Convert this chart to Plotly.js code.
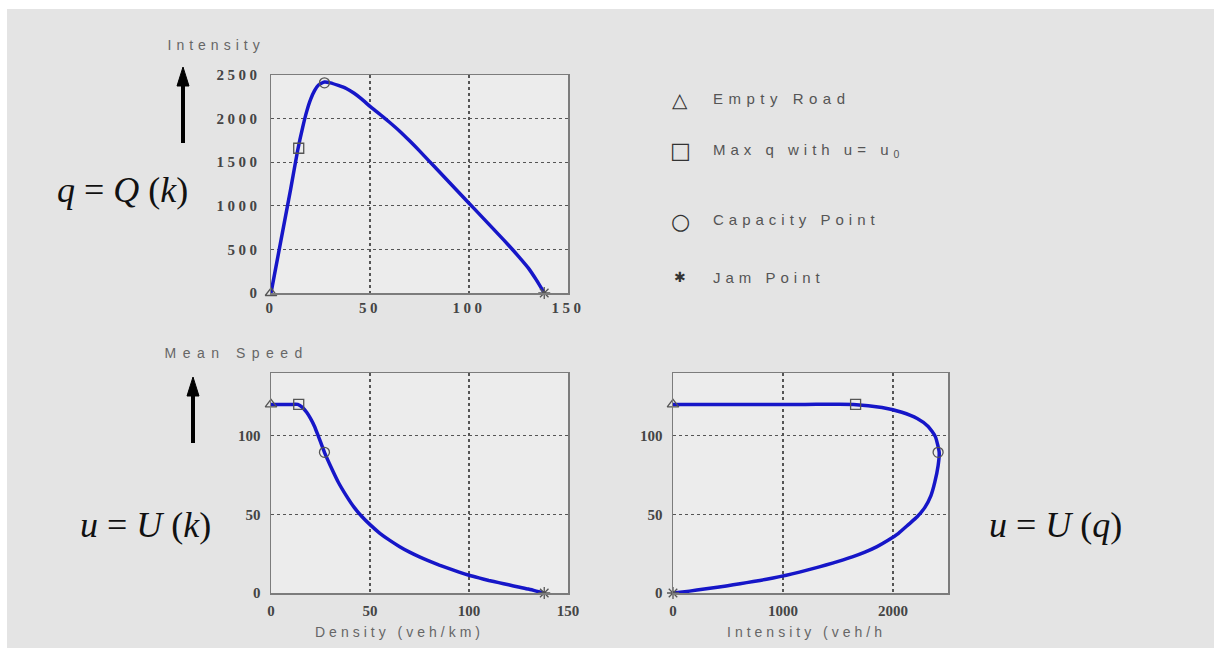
<!DOCTYPE html>
<html><head><meta charset="utf-8">
<script src="https://cdn.plot.ly/plotly-3.0.1.min.js"></script>
<style>
html,body{margin:0;padding:0;background:#fff;}
#wrap{position:relative;width:1214px;height:648px;overflow:hidden;}
#chart{position:absolute;left:0;top:0;width:1214px;height:648px;}
.edge{position:absolute;background:#fff;}
.xtick text,.ytick text{letter-spacing:3.5px;}
</style></head><body>
<div id="wrap"><div id="chart"></div>
<div class="edge" style="left:0;top:0;width:1214px;height:9px"></div>
<div class="edge" style="left:0;top:0;width:7px;height:648px"></div></div>
<script>
// ---- data ----
// density k (veh/km), intensity q read from the q=Q(k) panel, speed u read from the u=U(k) panel
const density   = [0, 5, 10, 13.5, 16, 18, 20, 22, 24, 27, 30, 34, 38, 42, 46, 50, 55, 60, 65, 70, 75, 80, 85, 90, 95, 100, 105, 110, 115, 120, 125, 130, 134, 138];
const intensity = [0, 600, 1200, 1640, 1900, 2080, 2220, 2320, 2385, 2420, 2410, 2380, 2345, 2290, 2220, 2140, 2050, 1955, 1855, 1745, 1630, 1510, 1390, 1270, 1150, 1030, 910, 790, 670, 548, 420, 285, 150, 0];
const speed     = [120, 120, 120, 120, 118, 115, 111, 106, 99.5, 89.5, 81, 70.5, 62, 54.5, 48.5, 43.5, 38, 33.5, 29.5, 26, 23, 20.3, 17.8, 15.5, 13.3, 11.3, 9.6, 8, 6.6, 5.2, 3.8, 2.5, 1.2, 0];

const pointNames     = ['Empty Road', 'Max q with u= u<sub>0</sub>', 'Capacity Point', 'Jam Point'];
const pointSymbols   = ['triangle-up-open', 'square-open', 'circle-open', 'asterisk-open'];
const legendGlyphs   = ['\u25B3', '\u25A1', '\u25CB', '\u2731'];
const pointDensity   = [0, 14, 27, 138];
const pointSpeed     = [120, 120, 89.5, 0];
const pointIntensity = [0, 1660, 2410, 0];

const densityTicks    = [0, 50, 100, 150];
const intensityTicks  = [0, 500, 1000, 1500, 2000, 2500];
const intensityXTicks = [0, 1000, 2000];
const speedTicks      = [0, 50, 100];

// ---- layout helpers (pixel -> paper) ----
const W = 1214, H = 648;
const dx = (a, b) => [a / W, b / W];
const dy = (top, bottom) => [1 - bottom / H, 1 - top / H];
const px = x => x / W;
const py = y => 1 - y / H;

function axis(extra) {
  return Object.assign({
    showline: true, mirror: true, linecolor: '#7c7c7c', linewidth: 1.5,
    showgrid: true, gridcolor: '#555555', griddash: 'dot', gridwidth: 1.2,
    zeroline: false, ticks: '', tickmode: 'array', ticklabelstandoff: 6,
    tickfont: {family: 'Liberation Serif', size: 15, color: '#454545', weight: 'bold'},
    fixedrange: true
  }, extra);
}

const curveLine = {color: '#1616c8', width: 3.5, shape: 'spline', smoothing: 0.5};
const traces = [
  {x: density, y: intensity, xaxis: 'x', yaxis: 'y', mode: 'lines', line: curveLine, showlegend: false, hoverinfo: 'skip'},
  {x: density, y: speed, xaxis: 'x2', yaxis: 'y2', mode: 'lines', line: curveLine, showlegend: false, hoverinfo: 'skip'},
  {x: intensity, y: speed, xaxis: 'x3', yaxis: 'y3', mode: 'lines', line: curveLine, showlegend: false, hoverinfo: 'skip'}
];
for (let i = 0; i < 4; i++) {
  const mk = {symbol: pointSymbols[i], size: 10, color: '#555', line: {width: 1.3, color: '#555'}};
  const base = {mode: 'markers', marker: mk, name: pointNames[i], showlegend: false, hoverinfo: 'skip', cliponaxis: false};
  traces.push(Object.assign({x: [pointDensity[i]], y: [pointIntensity[i]], xaxis: 'x', yaxis: 'y'}, base));
  traces.push(Object.assign({x: [pointDensity[i]], y: [pointSpeed[i]], xaxis: 'x2', yaxis: 'y2'}, base));
  traces.push(Object.assign({x: [pointIntensity[i]], y: [pointSpeed[i]], xaxis: 'x3', yaxis: 'y3'}, base));
}

const labelFont = {family: 'Liberation Sans', size: 14, color: '#666'};
const legendFont = {family: 'Liberation Sans', size: 15, color: '#555'};
const mathFont = {family: 'Liberation Serif', size: 36, color: '#111'};
const legendRowY = [98, 150, 220, 277];
const glyphSize = [20, 22, 22, 14];
const glyphRowY = [100, 150, 221, 277];

const annotations = [
  {text: 'Intensity', x: px(216), y: py(45), xanchor: 'center', yanchor: 'middle', font: labelFont},
  {text: 'Mean Speed', x: px(236), y: py(353), xanchor: 'center', yanchor: 'middle', font: labelFont},
  {text: 'Density (veh/km)', x: px(400), y: py(632), xanchor: 'center', yanchor: 'middle', font: labelFont},
  {text: 'Intensity (veh/h', x: px(806), y: py(632), xanchor: 'center', yanchor: 'middle', font: labelFont},
  {text: '<i>q</i> = <i>Q</i> (<i>k</i>)', x: px(122), y: py(190), xanchor: 'center', yanchor: 'middle', font: mathFont},
  {text: '<i>u</i> = <i>U</i> (<i>k</i>)', x: px(145), y: py(525), xanchor: 'center', yanchor: 'middle', font: mathFont},
  {text: '<i>u</i> = <i>U</i> (<i>q</i>)', x: px(1055), y: py(525), xanchor: 'center', yanchor: 'middle', font: mathFont}
];
for (let i = 0; i < 4; i++) {
  annotations.push({text: legendGlyphs[i], x: px(680), y: py(glyphRowY[i]), xanchor: 'center', yanchor: 'middle',
    font: {family: 'DejaVu Sans', size: glyphSize[i], color: '#333'}});
  annotations.push({text: pointNames[i], x: px(711), y: py(legendRowY[i]), xanchor: 'left', yanchor: 'middle',
    align: 'left', font: legendFont});
}
annotations.forEach(a => Object.assign(a, {xref: 'paper', yref: 'paper', showarrow: false}));

// arrows beside the y-axis labels
function arrowShapes(x, tip, tail) {
  return [
    {type: 'line', xref: 'paper', yref: 'paper', x0: px(x), x1: px(x), y0: py(tail), y1: py(tip + 16),
     line: {color: '#000', width: 4}},
    {type: 'path', xref: 'paper', yref: 'paper', fillcolor: '#000', line: {color: '#000', width: 1},
     path: 'M ' + px(x - 6) + ' ' + py(tip + 19) + ' L ' + px(x) + ' ' + py(tip) + ' L ' + px(x + 6) + ' ' + py(tip + 19) + ' Z'}
  ];
}

const layout = {
  width: W, height: H, margin: {l: 0, r: 0, t: 0, b: 0},
  paper_bgcolor: '#e4e4e4', plot_bgcolor: '#ececec',
  hovermode: false, showlegend: false,
  xaxis:  axis({domain: dx(271, 568), range: [0, 150], tickvals: densityTicks, anchor: 'y', ticklabelstandoff: 0}),
  yaxis:  axis({domain: dy(75, 293), range: [0, 2500], tickvals: intensityTicks, anchor: 'x'}),
  xaxis2: axis({domain: dx(271, 568), range: [0, 150], tickvals: densityTicks, anchor: 'y2', ticklabelstandoff: 3}),
  yaxis2: axis({domain: dy(373, 593), range: [0, 140], tickvals: speedTicks, anchor: 'x2'}),
  xaxis3: axis({domain: dx(673, 948), range: [0, 2500], tickvals: intensityXTicks, anchor: 'y3', ticklabelstandoff: 3}),
  yaxis3: axis({domain: dy(373, 593), range: [0, 140], tickvals: speedTicks, anchor: 'x3'}),
  annotations: annotations,
  shapes: arrowShapes(183, 67, 143).concat(arrowShapes(193, 377, 443))
};

Plotly.newPlot('chart', traces, layout, {displayModeBar: false, staticPlot: true}).then(() => {
  const spacing = {'Intensity': '5px', 'Mean Speed': '6.5px', 'Density (veh/km)': '4px', 'Intensity (veh/h': '4px',
    'Empty Road': '5.5px', 'Capacity Point': '5px', 'Jam Point': '5px'};
  document.querySelectorAll('.annotation-text').forEach(t => {
    const txt = t.textContent.replace(/\u200b/g, '').trim();
    let s = spacing[txt];
    if (!s && txt.indexOf('Max q') === 0) s = '5px';
    if (s) t.style.letterSpacing = s;
  });
});
</script>
</body></html>
